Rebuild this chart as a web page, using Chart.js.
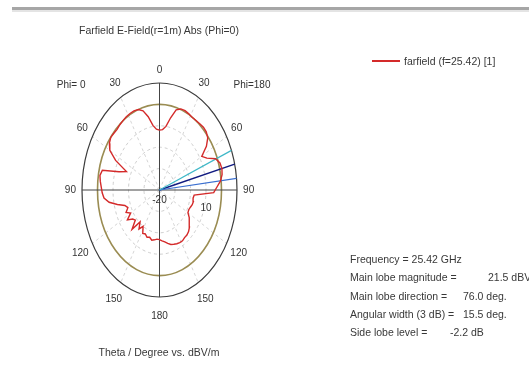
<!DOCTYPE html>
<html>
<head>
<meta charset="utf-8">
<script src="https://cdn.jsdelivr.net/npm/chart.js@4/dist/chart.umd.min.js"></script>
<style>
  html, body { margin: 0; padding: 0; background: #fff; width: 529px; height: 365px; overflow: hidden; }
  body { font-family: "Liberation Sans", Arial, sans-serif; color: #333; }
  #wrap { position: absolute; left: 0; top: 0; width: 529px; height: 365px; }
  .bar { position: absolute; left: 12px; right: 0; top: 7px; height: 3px; background: #a6a6a6; }
  .bar2 { position: absolute; left: 12px; right: 0; top: 10px; height: 2px; background: #e4e4e4; }
  .t { position: absolute; font-size: 10.5px; line-height: 12px; white-space: nowrap; color: #383838; }
  .leg { position: absolute; left: 372px; top: 60px; width: 28px; height: 2px; background: #d42a2a; }
</style>
</head>
<body>
<div id="wrap">
  <div class="bar"></div><div class="bar2"></div>
  <canvas id="c" width="529" height="365"></canvas>
  <div class="t" id="title" style="left:0;width:318px;text-align:center;top:24px"></div>
  <div class="t" id="caption" style="left:0;width:318px;text-align:center;top:346px"></div>
  <div class="leg"></div>
  <div class="t" id="legendText" style="left:404px;top:55px"></div>
  <div id="info"></div>
</div>
<script>
// Farfield cut: theta sampled every 4 degrees, E-field in dBV/m
const thetaDeg = [0,4,8,12,16,20,24,28,32,36,40,44,48,52,56,60,64,68,72,76,80,84,88,
                  92,96,100,104,108,112,116,120,124,128,132,136,140,144,148,152,156,160,164,168,172,176,180];
const phi0Db = [8.0,8.5,10.5,15.0,18.5,20.0,20.5,20.5,20.4,20.1,19.8,19.4,19.6,19.9,19.0,17.0,11.5,3.0,7.5,18.0,19.0,18.4,17.6,
                17.0,16.0,13.0,8.0,3.5,2.0,4.0,1.5,5.0,2.0,1.0,5.5,-0.5,2.5,0.0,3.0,2.5,3.5,3.0,4.0,3.5,3.0,3.2];
const phi180Db = [8.0,8.3,10.0,14.5,19.0,20.3,20.6,20.3,20.0,20.1,20.4,20.8,20.6,19.5,16.5,11.5,14.0,19.0,21.0,21.5,21.0,19.5,17.0,
                  15.0,2.5,2.0,2.5,2.2,1.5,1.0,1.2,3.0,4.5,6.0,7.0,7.5,7.5,8.0,7.8,7.5,7.0,6.5,5.5,4.5,3.8,3.2];

// Radial axis (dBV/m) and angular ticks
const radialMinDb = -20;
const radialMaxDb = 30;
const radialStepDb = 10;
const radialLabelValues = [-20, 10];
const angleTicks = [0, 30, 60, 90, 120, 150, 180];

// Summary figures
const frequencyGHz = 25.42;
const mainLobeMagnitude = 21.5;
const mainLobeDirection = 76.0;
const angularWidth3dB = 15.5;
const sideLobeLevel = -2.2;

const seriesName = 'farfield (f=' + frequencyGHz.toFixed(2) + ') [1]';
const titleText = 'Farfield E-Field(r=1m) Abs (Phi=0)';
const captionText = 'Theta / Degree vs. dBV/m';

document.getElementById('title').textContent = titleText;
document.getElementById('caption').textContent = captionText;
document.getElementById('legendText').textContent = seriesName;

const infoRows = [
  ['Frequency = ' + frequencyGHz.toFixed(2) + ' GHz', '', 0],
  ['Main lobe magnitude =', mainLobeMagnitude.toFixed(1) + ' dBV/m', 488],
  ['Main lobe direction =', mainLobeDirection.toFixed(1) + ' deg.', 463],
  ['Angular width (3 dB) =', angularWidth3dB.toFixed(1) + ' deg.', 463],
  ['Side lobe level =', sideLobeLevel.toFixed(1) + ' dB', 450]
];
const info = document.getElementById('info');
infoRows.forEach((row, i) => {
  const top = 253 + i * 18.3;
  const a = document.createElement('div');
  a.className = 't'; a.style.left = '350px'; a.style.top = top + 'px'; a.textContent = row[0];
  info.appendChild(a);
  if (row[1]) {
    const b = document.createElement('div');
    b.className = 't'; b.style.left = row[2] + 'px'; b.style.top = top + 'px'; b.textContent = row[1];
    info.appendChild(b);
  }
});

// polar (theta, dB) -> normalised plane; Phi=0 half on the left, Phi=180 on the right
function toPlane(theta, db, side) {
  const r = (db - radialMinDb) / (radialMaxDb - radialMinDb);
  const a = theta * Math.PI / 180;
  return { x: side * r * Math.sin(a), y: r * Math.cos(a) };
}

const curve = [];
thetaDeg.forEach((t, i) => curve.push(toPlane(t, phi0Db[i], -1)));
for (let i = thetaDeg.length - 1; i >= 0; i--) curve.push(toPlane(thetaDeg[i], phi180Db[i], 1));

function ray(theta) {
  return [{ x: 0, y: 0 }, toPlane(theta, radialMaxDb, 1)];
}

const polarFrame = {
  id: 'polarFrame',
  beforeDatasetsDraw(chart) {
    const ctx = chart.ctx, xs = chart.scales.x, ys = chart.scales.y;
    const cx = xs.getPixelForValue(0), cy = ys.getPixelForValue(0);
    const rx = xs.getPixelForValue(1) - cx, ry = cy - ys.getPixelForValue(1);
    ctx.save();
    // spokes every 30 degrees
    ctx.setLineDash([3, 3]);
    ctx.strokeStyle = '#cacaca';
    ctx.lineWidth = 0.8;
    [30, 60, 120, 150].forEach(t => {
      const a = t * Math.PI / 180;
      [-1, 1].forEach(s => {
        ctx.beginPath();
        ctx.moveTo(cx, cy);
        ctx.lineTo(cx + s * rx * Math.sin(a), cy - ry * Math.cos(a));
        ctx.stroke();
      });
    });
    // dB rings
    for (let v = radialMinDb + radialStepDb; v < radialMaxDb; v += radialStepDb) {
      const f = (v - radialMinDb) / (radialMaxDb - radialMinDb);
      ctx.beginPath();
      ctx.ellipse(cx, cy, rx * f, ry * f, 0, 0, Math.PI * 2);
      if (v === 20) {
        ctx.setLineDash([]);
        ctx.strokeStyle = '#9a8c52';
        ctx.lineWidth = 1.6;
      } else {
        ctx.setLineDash([3, 3]);
        ctx.strokeStyle = '#c2c2c2';
        ctx.lineWidth = 0.8;
      }
      ctx.stroke();
    }
    // outer ring and axes
    ctx.setLineDash([]);
    ctx.strokeStyle = '#3c3c3c';
    ctx.lineWidth = 1.2;
    ctx.beginPath();
    ctx.ellipse(cx, cy, rx, ry, 0, 0, Math.PI * 2);
    ctx.stroke();
    ctx.strokeStyle = '#444';
    ctx.lineWidth = 1;
    ctx.beginPath();
    ctx.moveTo(cx, cy - ry); ctx.lineTo(cx, cy + ry);
    ctx.moveTo(cx - rx, cy); ctx.lineTo(cx + rx, cy);
    ctx.stroke();
    ctx.restore();
  },
  afterDraw(chart) {
    const ctx = chart.ctx, xs = chart.scales.x, ys = chart.scales.y;
    const cx = xs.getPixelForValue(0), cy = ys.getPixelForValue(0);
    const rx = xs.getPixelForValue(1) - cx, ry = cy - ys.getPixelForValue(1);
    ctx.save();
    ctx.fillStyle = '#333';
    ctx.font = '10px "Liberation Sans", Arial, sans-serif';
    ctx.textAlign = 'center';
    ctx.textBaseline = 'middle';
    angleTicks.forEach(t => {
      const a = t * Math.PI / 180;
      const k = t > 90 ? 1.18 : (t === 0 ? 1.12 : 1.15);
      const sides = (t === 0 || t === 180) ? [1] : [-1, 1];
      sides.forEach(s => {
        ctx.fillText(String(t), cx + s * k * rx * Math.sin(a), cy - k * ry * Math.cos(a));
      });
    });
    const rowY = cy - 1.15 * ry * Math.cos(Math.PI / 6) + 2;
    ctx.textAlign = 'right';
    ctx.fillText('Phi= 0', cx - 74, rowY);
    ctx.textAlign = 'left';
    ctx.fillText('Phi=180', cx + 74, rowY);
    ctx.textAlign = 'center';
    radialLabelValues.forEach((v, i) => {
      const f = (v - radialMinDb) / (radialMaxDb - radialMinDb);
      ctx.fillText(String(v), cx + f * rx, cy + 10 + i * 8);
    });
    ctx.restore();
  }
};

new Chart(document.getElementById('c'), {
  type: 'scatter',
  data: {
    datasets: [
      { label: seriesName, data: curve, showLine: true, borderColor: '#d42a2a', borderWidth: 1.4,
        pointRadius: 0, tension: 0, fill: false },
      { label: 'width lower', data: ray(mainLobeDirection - angularWidth3dB / 2), showLine: true,
        borderColor: '#3fb8c8', borderWidth: 1.2, pointRadius: 0 },
      { label: 'width upper', data: ray(mainLobeDirection + angularWidth3dB / 2), showLine: true,
        borderColor: '#3a6fd0', borderWidth: 1.2, pointRadius: 0 },
      { label: 'main lobe', data: ray(mainLobeDirection), showLine: true,
        borderColor: '#101a80', borderWidth: 1.5, pointRadius: 0 }
    ]
  },
  options: {
    responsive: false,
    animation: false,
    devicePixelRatio: 1,
    layout: { padding: { left: 82, right: 292, top: 83, bottom: 68 } },
    scales: {
      x: { type: 'linear', min: -1, max: 1, display: false },
      y: { type: 'linear', min: -1, max: 1, display: false }
    },
    plugins: { legend: { display: false }, tooltip: { enabled: false } }
  },
  plugins: [polarFrame]
});
</script>
</body>
</html>
